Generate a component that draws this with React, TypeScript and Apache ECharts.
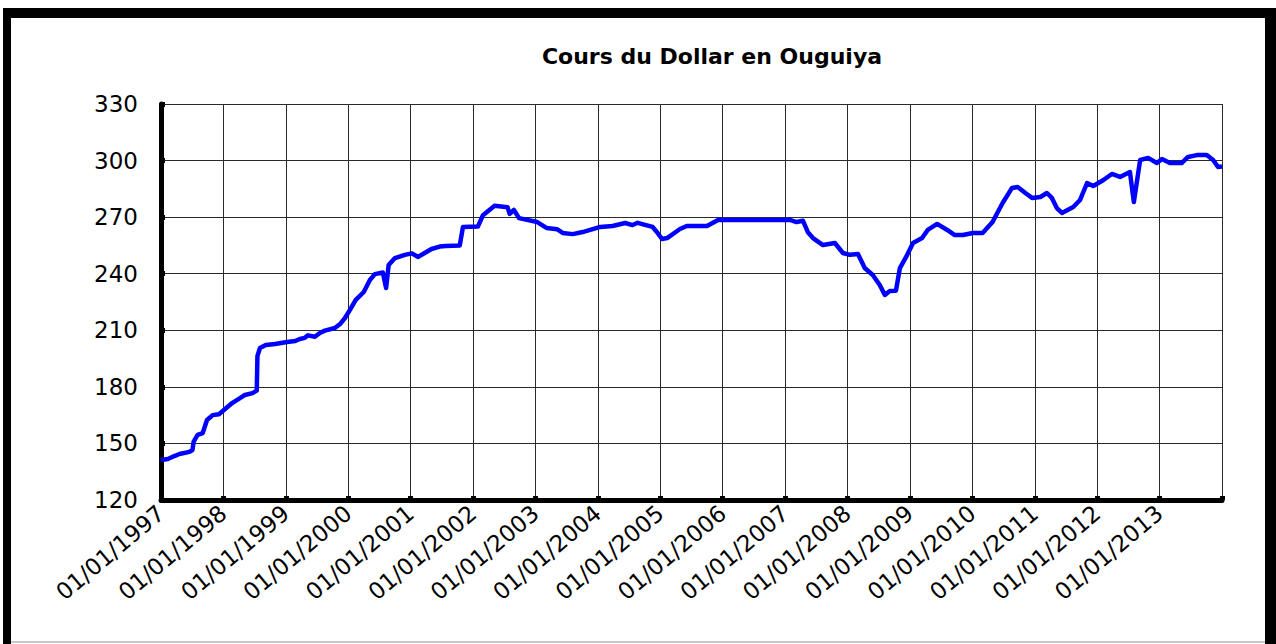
import React, { useEffect, useRef } from "react";
import * as echarts from "echarts";

const TITLE = "Cours du Dollar en Ouguiya";

const dates = [
  "1997-01-01", "1997-02-10", "1997-03-20", "1997-04-19", "1997-06-16", "1997-07-04",
  "1997-07-11", "1997-08-03", "1997-09-02", "1997-09-27", "1997-10-30", "1997-12-06",
  "1998-01-04", "1998-02-21", "1998-04-08", "1998-05-07", "1998-06-20", "1998-07-15",
  "1998-07-19", "1998-08-03", "1998-09-06", "1998-10-30", "1999-01-08", "1999-02-25",
  "1999-03-24", "1999-04-22", "1999-05-10", "1999-06-20", "1999-07-19", "1999-08-17",
  "1999-10-15", "1999-11-14", "1999-12-13", "2000-01-11", "2000-02-14", "2000-04-01",
  "2000-05-07", "2000-06-05", "2000-07-22", "2000-08-10", "2000-08-25", "2000-10-01",
  "2000-11-28", "2001-01-08", "2001-02-14", "2001-03-24", "2001-05-03", "2001-06-20",
  "2001-07-26", "2001-10-15", "2001-11-03", "2002-01-29", "2002-02-28", "2002-05-07",
  "2002-07-22", "2002-08-03", "2002-08-28", "2002-09-27", "2003-01-11", "2003-03-09",
  "2003-05-07", "2003-06-09", "2003-08-07", "2003-10-04", "2004-01-15", "2004-03-27",
  "2004-06-09", "2004-07-22", "2004-08-21", "2004-11-17", "2004-12-13", "2005-01-11",
  "2005-02-10", "2005-04-26", "2005-06-05", "2005-10-01", "2005-12-05", "2007-01-29",
  "2007-03-09", "2007-04-15", "2007-05-14", "2007-06-13", "2007-08-10", "2007-10-19",
  "2007-12-05", "2008-01-15", "2008-03-02", "2008-04-11", "2008-05-28", "2008-07-08",
  "2008-08-07", "2008-09-05", "2008-10-11", "2008-11-03", "2008-12-16", "2009-01-19",
  "2009-03-13", "2009-04-15", "2009-06-09", "2009-08-07", "2009-09-20", "2009-11-07",
  "2010-01-04", "2010-03-02", "2010-04-29", "2010-06-27", "2010-08-21", "2010-09-23",
  "2010-11-07", "2010-12-16", "2011-02-03", "2011-03-13", "2011-04-11", "2011-05-10",
  "2011-06-09", "2011-08-14", "2011-09-23", "2011-11-03", "2011-12-09", "2012-02-07",
  "2012-03-27", "2012-05-14", "2012-07-11", "2012-08-03", "2012-09-09", "2012-10-26",
  "2012-12-16", "2013-01-15", "2013-03-02", "2013-05-10", "2013-06-16", "2013-08-07",
  "2013-10-04", "2013-11-10", "2013-12-09", "2014-01-01",
];

const rates = [
  141.2, 141.7, 143.3, 144.4, 145.5, 146.5,
  151.0, 154.5, 155.5, 162.4, 165.0, 165.5,
  167.7, 171.4, 174.0, 175.7, 176.7, 178.0,
  196.4, 200.6, 202.2, 202.7, 203.8, 204.3,
  205.4, 206.0, 207.3, 206.6, 208.6, 209.8,
  211.2, 213.3, 216.5, 220.8, 226.1, 230.3,
  236.7, 239.8, 240.6, 232.4, 244.6, 248.3,
  250.0, 250.8, 248.9, 251.0, 253.1, 254.4,
  254.7, 254.9, 264.8, 265.0, 271.0, 276.0,
  275.2, 271.7, 273.8, 269.5, 267.4, 264.2,
  263.6, 261.6, 261.0, 262.1, 264.8, 265.3,
  266.9, 265.8, 267.0, 264.8, 262.0, 258.4,
  258.9, 263.7, 265.3, 265.3, 268.5, 268.5,
  267.4, 268.1, 262.0, 258.9, 255.2, 256.3,
  251.0, 250.0, 250.5, 243.0, 239.3, 234.0,
  228.7, 230.8, 231.0, 243.0, 250.0, 256.3,
  258.9, 263.2, 266.4, 263.2, 260.5, 260.5,
  261.6, 261.6, 267.4, 277.5, 285.5, 286.0,
  282.8, 280.2, 280.7, 282.8, 280.2, 274.8,
  272.2, 275.4, 279.1, 288.1, 286.5, 289.7,
  292.9, 291.3, 293.9, 278.0, 300.3, 301.4,
  298.7, 300.8, 298.7, 298.7, 301.9, 302.9,
  303.0, 300.3, 296.6, 296.8,
];

const X_MIN = 1997;
const X_MAX = 2014;
const Y_MIN = 120;
const Y_MAX = 330;
const Y_STEP = 30;

function toYear(d: string): number {
  const [y, m, day] = d.split("-").map(Number);
  const start = Date.UTC(y, 0, 1);
  const end = Date.UTC(y + 1, 0, 1);
  return y + (Date.UTC(y, m - 1, day) - start) / (end - start);
}

export default function App() {
  const ref = useRef<HTMLDivElement>(null);
  useEffect(() => {
    if (!ref.current) return;
    const chart = echarts.init(ref.current, undefined, { renderer: "svg" });
    const font = "DejaVu Sans";
    chart.setOption({
      animation: false,
      backgroundColor: "#ffffff",
      grid: { left: 161, right: 54, top: 104, bottom: 144, containLabel: false },
      xAxis: {
        type: "value",
        min: X_MIN,
        max: X_MAX,
        interval: 1,
        axisLine: { show: true, onZero: false, lineStyle: { color: "#000", width: 5 } },
        axisTick: { show: true, inside: true, length: 4, lineStyle: { color: "#000", width: 5 } },
        splitLine: { show: true, lineStyle: { color: "#2a2a2a", width: 1 } },
        axisLabel: {
          rotate: 40,
          margin: 10,
          color: "#000",
          fontFamily: font,
          fontSize: 23,
          formatter: (v: number) => (v < X_MAX ? "01/01/" + v : ""),
        },
      },
      yAxis: {
        type: "value",
        min: Y_MIN,
        max: Y_MAX,
        interval: Y_STEP,
        axisLine: { show: true, onZero: false, lineStyle: { color: "#000", width: 5 } },
        axisTick: { show: true, inside: true, length: 4, lineStyle: { color: "#000", width: 5 } },
        splitLine: { show: true, lineStyle: { color: "#2a2a2a", width: 1 } },
        axisLabel: { margin: 23, color: "#000", fontFamily: font, fontSize: 23 },
      },
      series: [
        {
          type: "line",
          data: dates.map((d, i) => [toYear(d), rates[i]]),
          showSymbol: false,
          symbol: "none",
          lineStyle: { color: "#0000ff", width: 4.5, join: "round" },
          z: 5,
        },
      ],
      graphic: [
        { type: "rect", shape: { x: 3, y: 8, width: 1273, height: 10 }, style: { fill: "#000" } },
        { type: "rect", shape: { x: 3, y: 8, width: 8, height: 636 }, style: { fill: "#000" } },
        { type: "rect", shape: { x: 1265, y: 8, width: 11, height: 636 }, style: { fill: "#000" } },
        { type: "rect", shape: { x: 11, y: 641, width: 1254, height: 2 }, style: { fill: "#c8c8c8" } },
        {
          type: "text",
          x: 712,
          y: 56,
          style: {
            text: TITLE,
            fill: "#000",
            font: "bold 22px 'DejaVu Sans'",
            textAlign: "center",
            textVerticalAlign: "middle",
          },
        },
      ],
    });
    return () => chart.dispose();
  }, []);
  return (
    <div
      ref={ref}
      style={{ position: "fixed", left: 0, top: 0, width: 1276, height: 644, background: "#fff" }}
    />
  );
}
